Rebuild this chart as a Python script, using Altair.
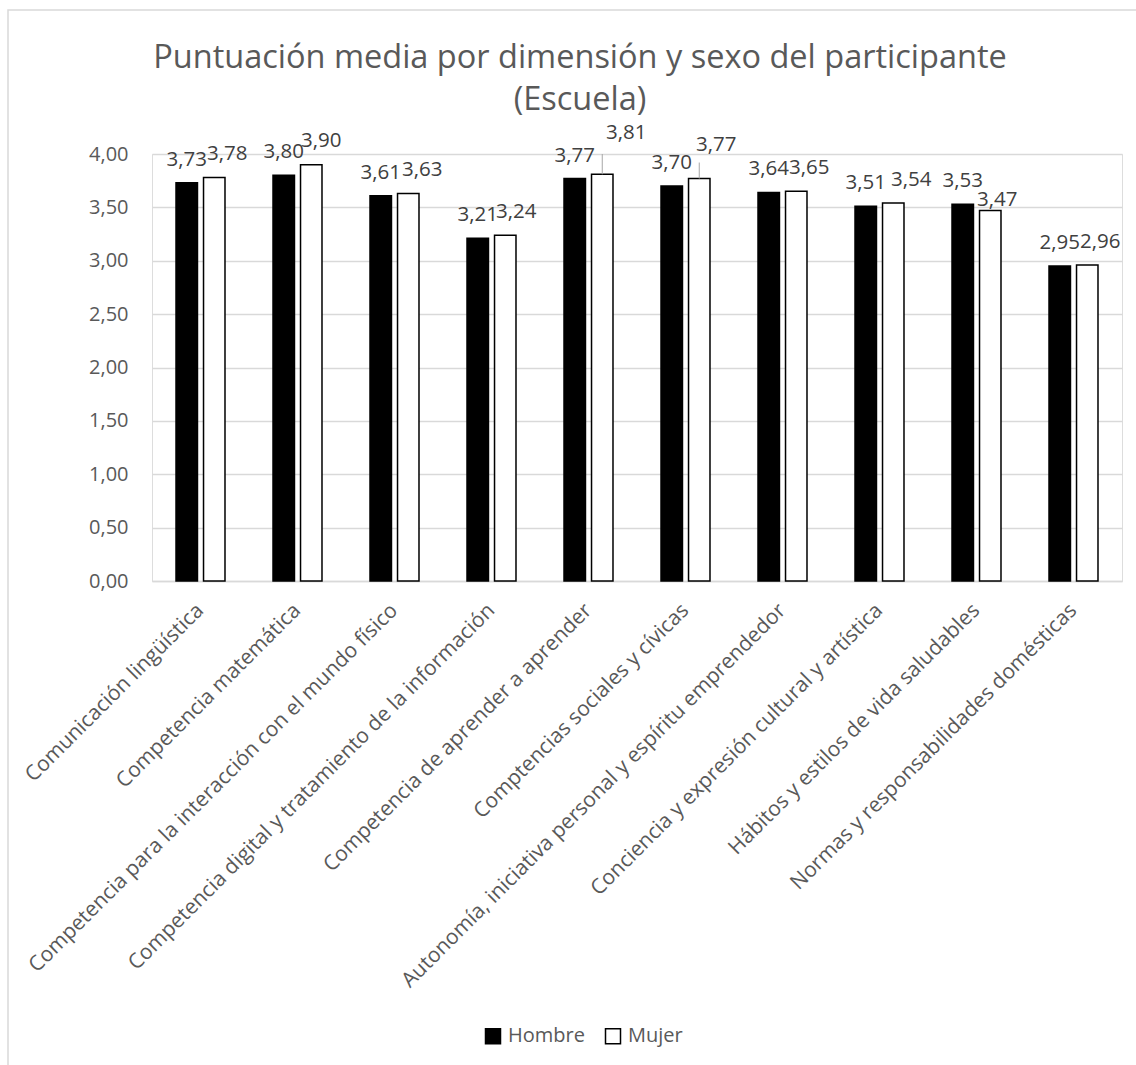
import altair as alt
import pandas as pd

categories = [
    "Comunicación lingüística",
    "Competencia matemática",
    "Competencia para la interacción con el mundo físico",
    "Competencia digital y tratamiento de la información",
    "Competencia de aprender a aprender",
    "Comptencias sociales y cívicas",
    "Autonomía, iniciativa personal y espíritu emprendedor",
    "Conciencia y expresión cultural y artística",
    "Hábitos y estilos de vida saludables",
    "Normas y responsabilidades domésticas",
]
hombre = [3.73, 3.80, 3.61, 3.21, 3.77, 3.70, 3.64, 3.51, 3.53, 2.95]
mujer = [3.78, 3.90, 3.63, 3.24, 3.81, 3.77, 3.65, 3.54, 3.47, 2.96]
series = ["Hombre", "Mujer"]
y_ticks = [0, 0.5, 1, 1.5, 2, 2.5, 3, 3.5, 4]

rows = []
for c, h, m in zip(categories, hombre, mujer):
    rows.append({"cat": c, "sex": "Hombre", "value": h})
    rows.append({"cat": c, "sex": "Mujer", "value": m})
df = pd.DataFrame(rows)

FONT = "Open Sans"
GREY = "#595959"
fmt = "replace(format(datum.value, '.2f'), '.', ',')"

# label displacements (style only): (category index, series) -> (dx, dy)
default_shift = {"Hombre": (0, -17), "Mujer": (13, -17)}
overrides = {
    (1, "Mujer"): (10, -18),
    (2, "Mujer"): (14, -17),
    (3, "Mujer"): (11, -17),
    (4, "Mujer"): (24, -35),
    (5, "Mujer"): (17, -28),
    (7, "Mujer"): (18, -17),
    (8, "Mujer"): (7, -5),
}
leaders = {(4, "Mujer"): 0.19, (5, "Mujer"): 0.15}

X = alt.X(
    "cat:N",
    sort=categories,
    title=None,
    scale=alt.Scale(paddingInner=0.495, paddingOuter=0.2475),
    axis=alt.Axis(
        labelAngle=-45, labelAlign="right", labelBaseline="middle",
        labelFontSize=21, labelFont=FONT, labelColor=GREY, labelPadding=26,
        ticks=False, domainColor="#d9d9d9", domainWidth=1.5, labelLimit=700,
        grid=False,
    ),
)
XO = alt.XOffset("sex:N", sort=series, scale=alt.Scale(paddingInner=0.22, paddingOuter=0))
Y = alt.Y(
    "value:Q",
    title=None,
    scale=alt.Scale(domain=[0, 4]),
    axis=alt.Axis(
        values=y_ticks, labelExpr=fmt, domain=False, ticks=False,
        gridColor="#d9d9d9", gridWidth=1.3, labelFontSize=20, labelFont=FONT,
        labelColor=GREY, labelPadding=24,
    ),
)

base = alt.Chart(df).encode(x=X, xOffset=XO, y=Y)

bars = base.mark_bar(stroke="black", strokeWidth=1.5).encode(
    color=alt.Color(
        "sex:N",
        sort=series,
        scale=alt.Scale(domain=series, range=["black", "white"]),
        legend=alt.Legend(
            title=None, orient="none", legendX=331, legendY=872,
            direction="horizontal", symbolType="square", symbolSize=225,
            symbolStrokeColor="black", symbolStrokeWidth=1.5,
            labelFontSize=20, labelFont=FONT, labelColor=GREY,
            columnPadding=17, labelOffset=5,
        ),
    )
)

layers = [bars]

for i, c in enumerate(categories):
    for s in series:
        dx, dy = overrides.get((i, s), default_shift[s])
        layers.append(
            base.transform_filter(f"datum.cat === '{c}' && datum.sex === '{s}'")
            .transform_calculate(label=fmt)
            .mark_text(dx=dx, dy=dy, baseline="alphabetic", fontSize=20.5,
                       font=FONT, color="#404040")
            .encode(text="label:N")
        )

for (i, s), ext in leaders.items():
    c = categories[i]
    layers.append(
        base.transform_filter(f"datum.cat === '{c}' && datum.sex === '{s}'")
        .transform_calculate(top=f"datum.value + {ext}")
        .mark_rule(color="#a6a6a6", strokeWidth=1)
        .encode(y2="top:Q")
    )

border = alt.Chart(pd.DataFrame({"k": [0]})).mark_rect(
    fill=None, stroke="#d9d9d9", strokeWidth=1.5
).encode(
    x=alt.value(-144), x2=alt.value(1200), y=alt.value(-144), y2=alt.value(1100)
)

chart = alt.layer(border, *layers).properties(
    width=970,
    height=427,
    autosize=alt.AutoSizeParams(type="none"),
    padding={"left": 152, "top": 154, "right": 14, "bottom": 484},
    title=alt.TitleParams(
        text=["Puntuación media por dimensión y sexo del participante", "(Escuela)"],
        fontSize=32.5, font=FONT, color=GREY, fontWeight="normal",
        anchor="middle", frame="group", dx=-57, dy=144, offset=37, lineHeight=42,
    ),
).configure_view(stroke=None).configure(font=FONT)

chart.save("out.html", embed_options={"renderer": "svg", "actions": False})
